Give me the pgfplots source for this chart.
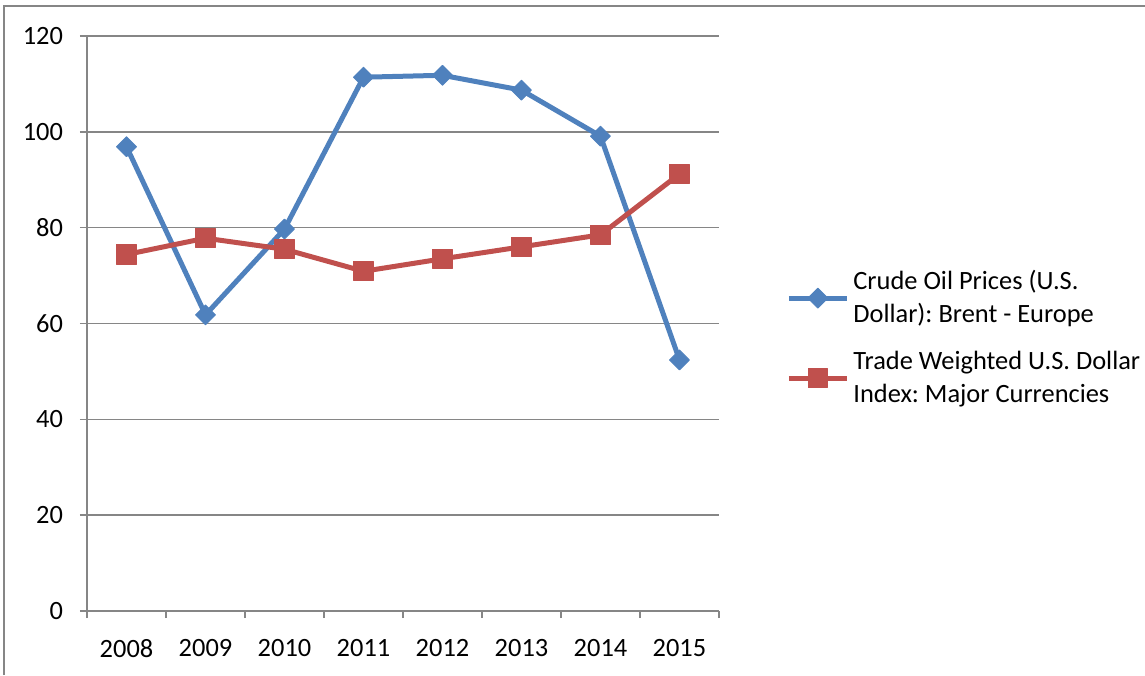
\documentclass[border=0pt]{standalone}
\usepackage{pgfplots}
\pgfplotsset{compat=1.18}
\usepackage{fontspec}
\setmainfont{Carlito}
\frenchspacing
\definecolor{oilblue}{HTML}{4F81BD}
\definecolor{usdred}{HTML}{C0504D}
\definecolor{gridgray}{HTML}{868686}
\begin{document}
\begin{tikzpicture}[x=1pt,y=1pt]
\path[use as bounding box] (0,0) rectangle (572.5,337.5);
\draw[gridgray, line width=0.75pt] (2,0) -- (2,334.5) -- (572.5,334.5);
\begin{axis}[
  at={(43.5pt,32pt)}, anchor=south west,
  width=316pt, height=287.5pt, scale only axis,
  xmin=-0.5, xmax=7.5, ymin=0, ymax=120,
  xtick={-0.5,0.5,...,7.5},
  x tick label as interval,
  xticklabels={2008,2009,2010,2011,2012,2013,2014,2015},
  ytick={0,20,...,120},
  ymajorgrids,
  grid style={gridgray, line width=0.75pt},
  axis x line*=bottom, axis y line*=left,
  axis line style={gridgray, line width=0.75pt},
  tick align=outside, major tick length=3.5pt,
  tick style={gridgray, line width=0.75pt},
  /pgf/number format/assume math mode=true,
  ticklabel style={font=\fontsize{13.2}{16}\selectfont, text=black},
  yticklabel style={xshift=-5pt},
  xticklabel style={yshift=-7pt},
  legend style={at={(1.106,0.475)}, anchor=west, draw=none, fill=none,
    inner sep=0pt, row sep=8.5pt, nodes={inner xsep=2pt},
    font=\fontsize{13.2}{16.5}\selectfont, cells={align=left}},
  legend cell align=left,
  legend image code/.code={\draw[#1, mark repeat=2, mark phase=2] plot coordinates {(0pt,0pt) (14.5pt,0pt) (29pt,0pt)};},
]
\addplot[oilblue, line width=2.5pt, line join=round, mark=square*, mark size=3.5pt,
  mark options={rotate=45, solid, line width=0.5pt}]
  coordinates {(0,96.9) (1,61.8) (2,79.7) (3,111.4) (4,111.8) (5,108.7) (6,99.1) (7,52.4)};
\addlegendentry{Crude Oil Prices (U.S.\\Dollar): Brent - Europe}
\addplot[usdred, line width=2.5pt, line join=round, mark=square*, mark size=4.8pt,
  mark options={solid, line width=0.5pt}]
  coordinates {(0,74.4) (1,77.8) (2,75.5) (3,70.9) (4,73.5) (5,76.0) (6,78.5) (7,91.2)};
\addlegendentry{Trade Weighted U.S. Dollar\\Index: Major Currencies}
\end{axis}
\end{tikzpicture}
\end{document}
